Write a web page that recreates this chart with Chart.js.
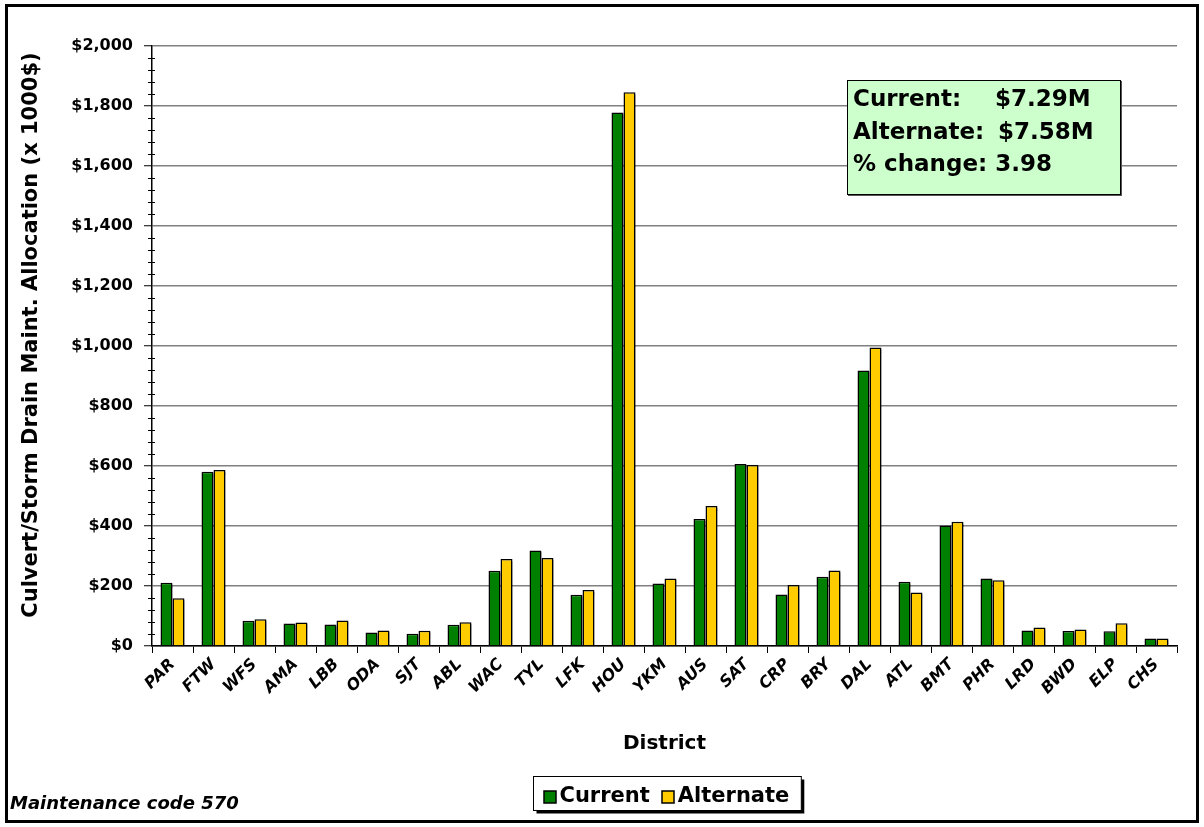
<!DOCTYPE html>
<html><head><meta charset="utf-8">
<script src="https://cdn.jsdelivr.net/npm/chart.js@4.4.1/dist/chart.umd.min.js"></script>
<style>
html,body{margin:0;padding:0;background:#fff;}
#wrap{position:relative;width:1204px;height:827px;overflow:hidden;font-family:"DejaVu Sans",sans-serif;}
#frame{position:absolute;left:5px;top:4px;width:1188px;height:813px;border:3px solid #000;pointer-events:none;}
#c{position:absolute;left:0;top:0;}
#note{position:absolute;left:847px;top:80px;width:274px;height:115px;box-sizing:border-box;background:#ccffcc;border:1px solid #000;box-shadow:1px 1px 0 #555;font-weight:bold;font-size:23px;line-height:32.5px;padding:1px 0 0 5px;color:#000;white-space:pre;}
#note span.l1{display:inline-block;width:142px;}
#note span.l2{display:inline-block;width:145px;}
#code{position:absolute;left:10px;top:792px;font-size:18px;font-weight:bold;font-style:italic;color:#000;}
</style></head>
<body>
<div id="wrap">
<canvas id="c" width="1204" height="827"></canvas>
<div id="note"><div><span class="l1">Current:</span>$7.29M</div><div><span class="l2">Alternate:</span>$7.58M</div><div>% change: 3.98</div></div>
<div id="code">Maintenance code 570</div>
<div id="frame"></div>
</div>
<script>
const districts = ['PAR','FTW','WFS','AMA','LBB','ODA','SJT','ABL','WAC','TYL','LFK','HOU','YKM','AUS','SAT','CRP','BRY','DAL','ATL','BMT','PHR','LRD','BWD','ELP','CHS'];
const currentValues = [211,581,84,75,72,45,41,71,251,318,171,1778,208,423,607,172,231,918,214,402,225,52,50,49,25];
const alternateValues = [159,587,89,78,85,52,51,79,290,293,187,1846,225,467,603,203,252,995,178,414,219,62,55,76,25];
const yTickValues = [0,200,400,600,800,1000,1200,1400,1600,1800,2000];
const seriesNames = ['Current','Alternate'];

const FONT = '"DejaVu Sans", sans-serif';
Chart.defaults.font.family = FONT;
Chart.defaults.color = '#000';

const extras = {
  id: 'extras',
  beforeDatasetsDraw(chart) {
    const ctx = chart.ctx;
    ctx.save();
    ctx.shadowColor = 'rgba(0,0,0,0.45)';
    ctx.shadowOffsetX = 2;
    ctx.shadowOffsetY = 2;
    ctx.shadowBlur = 1;
  },
  afterDatasetsDraw(chart) {
    chart.ctx.restore();
  },
  afterDraw(chart) {
    const ctx = chart.ctx;
    const y = chart.scales.y;
    const xAxis = chart.chartArea.left;
    ctx.save();
    ctx.strokeStyle = '#000';
    ctx.lineWidth = 1;
    for (let v = 0; v <= 2000; v += 40) {
      if (v % 200 === 0) continue;
      const py = Math.round(y.getPixelForValue(v)) + 0.5;
      ctx.beginPath();
      ctx.moveTo(xAxis - 4, py);
      ctx.lineTo(xAxis + 3, py);
      ctx.stroke();
    }
    ctx.restore();
  }
};

// legend drawn from the chart's datasets
const boxedLegend = {
  id: 'boxedLegend',
  afterDraw(chart) {
    const ctx = chart.ctx;
    const ds = chart.data.datasets;
    ctx.save();
    ctx.font = 'bold 21px ' + FONT;
    ctx.textBaseline = 'middle';
    const sw = 12, gapText = 4, gapItem = 12, padL = 10, padR = 12;
    const widths = ds.map(d => ctx.measureText(d.label).width);
    let total = padL + padR;
    widths.forEach((w, i) => { total += sw + gapText + w + (i < ds.length - 1 ? gapItem : 0); });
    const cx = (chart.chartArea.left + chart.chartArea.right) / 2 + 2;
    const L = Math.round(cx - total / 2) + 0.5, T = 776.5, H = 34;
    ctx.fillStyle = '#000';
    ctx.fillRect(L + 3, T + 3, total, H);
    ctx.fillStyle = '#fff';
    ctx.fillRect(L, T, total, H);
    ctx.strokeStyle = '#000';
    ctx.lineWidth = 1;
    ctx.strokeRect(L, T, total, H);
    let x = L + padL;
    const cy = 797;
    ds.forEach((d, i) => {
      ctx.fillStyle = d.backgroundColor;
      ctx.fillRect(Math.round(x), Math.round(cy - sw / 2), sw, sw);
      ctx.lineWidth = 1.5;
      ctx.strokeStyle = '#000';
      ctx.strokeRect(Math.round(x), Math.round(cy - sw / 2), sw, sw);
      x += sw + gapText;
      ctx.fillStyle = '#000';
      ctx.fillText(d.label, x, cy);
      x += widths[i] + gapItem;
    });
    ctx.restore();
  }
};

new Chart(document.getElementById('c'), {
  type: 'bar',
  data: {
    labels: districts,
    datasets: [
      { label: seriesNames[0], data: currentValues, backgroundColor: '#008000', borderColor: '#000', borderWidth: 1.5 },
      { label: seriesNames[1], data: alternateValues, backgroundColor: '#ffcc00', borderColor: '#000', borderWidth: 1.5 }
    ]
  },
  options: {
    responsive: false,
    animation: false,
    devicePixelRatio: 1,
    layout: { padding: { left: 14, top: 46, right: 27, bottom: 49 } },
    datasets: { bar: { categoryPercentage: 0.585, barPercentage: 1.0 } },
    plugins: {
      legend: { display: false },
      tooltip: { enabled: false },
      title: { display: false }
    },
    scales: {
      x: {
        offset: true,
        grid: { offset: true, drawOnChartArea: false, drawTicks: true, tickLength: 7, color: '#000', lineWidth: 1 },
        border: { color: '#000', width: 1.5 },
        ticks: { autoSkip: false, minRotation: 45, maxRotation: 45, padding: 2, color: '#000', font: { size: 16, weight: 'bold', style: 'italic' } },
        title: { display: true, text: 'District', color: '#000', font: { size: 20, weight: 'bold' }, padding: { top: 4, bottom: 22 } },
        afterFit(s) { s.height = 132; }
      },
      y: {
        min: 0, max: 2000,
        afterBuildTicks(s) { s.ticks = yTickValues.map(v => ({ value: v })); },
        ticks: { padding: 11, color: '#000', font: { size: 16, weight: 'bold' },
          callback: v => '$' + Number(v).toLocaleString('en-US') },
        grid: { color: '#808080', lineWidth: 1.5, tickLength: 8, tickColor: '#000', tickWidth: 1 },
        border: { color: '#000', width: 1.5 },
        title: { display: true, text: '   Culvert/Storm Drain Maint. Allocation (x 1000$)', color: '#000', font: { size: 21, weight: 'bold' }, padding: { top: 5, bottom: 4 } },
        afterFit(s) { s.width = 138; }
      }
    }
  },
  plugins: [extras, boxedLegend]
});
</script>
</body></html>
